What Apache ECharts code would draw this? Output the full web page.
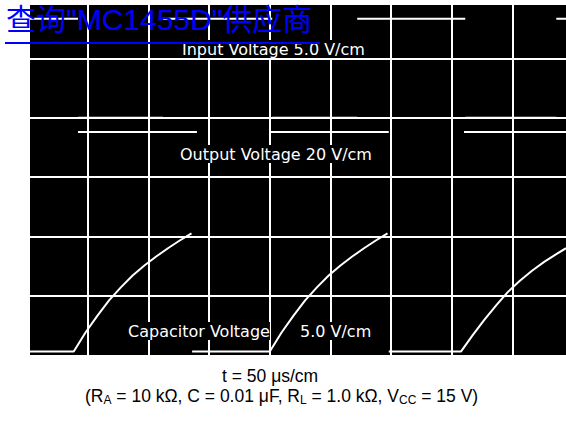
<!DOCTYPE html>
<html>
<head>
<meta charset="utf-8">
<script src="https://cdn.jsdelivr.net/npm/echarts@6/dist/echarts.min.js"></script>
<style>
html,body{margin:0;padding:0;background:#fff;}
#c{width:566px;height:421px;}
</style>
</head>
<body>
<div id="c"></div>
<script>
// time axis in microseconds (50 us per division); vertical axis in screen divisions
const xMin = -50, xMax = 394, xStep = 50;
const yMin = 0, yMax = 5.9, yStep = 1;

// Input voltage trace: edge times (us), alternating starting with high level
const inputEdges = [-48, -8, 62, 152, 222, 311, 386, 394];
const inputLevels = [5.67, 4.0]; // [high, low] in divisions

// Output voltage trace: edge times (us), alternating starting with low level
const outputEdges = [-48, -8, 90, 151, 248, 310, 394];
const outputLevels = [3.0, 3.76]; // [low, high]

// Capacitor voltage trace (null = break in trace)
const capT = [-48, -11.5, -1.8, 7.9, 17.6, 27.3, 37, 46.7, 56.4, 66.1, 75.8, 85.5, null,
              86, 150, 159.7, 169.4, 179.1, 188.8, 198.5, 208.2, 217.9, 227.6, 237.3, 247, null,
              248, 307.6, 317, 327, 337, 346, 356, 366, 376, 386, 394];
const capV = [0.06, 0.06, 0.38, 0.66, 0.92, 1.14, 1.34, 1.51, 1.66, 1.80, 1.93, 2.05, null,
              0.06, 0.06, 0.38, 0.66, 0.92, 1.14, 1.34, 1.51, 1.66, 1.80, 1.93, 2.05, null,
              0.06, 0.06, 0.33, 0.60, 0.85, 1.06, 1.25, 1.42, 1.57, 1.70, 1.80];

const labels = {
  link: '查询"MC1455D"供应商',
  input: 'Input Voltage 5.0 V/cm',
  output: 'Output Voltage 20 V/cm',
  cap: 'Capacitor Voltage',
  capScale: '5.0 V/cm',
  time: 't = 50 μs/cm',
  cond: '(R{s|A} = 10 kΩ, C = 0.01 μF, R{s|L} = 1.0 kΩ, V{s|CC} = 15 V)'
};

function stepData(edges, levels) {
  const d = [];
  for (let i = 0; i < edges.length - 1; i++) {
    const lv = levels[i % 2];
    d.push([edges[i], lv], [edges[i + 1], lv], [null, null]);
  }
  return d;
}
const capData = capT.map((t, i) => [t, capV[i]]);

const chart = echarts.init(document.getElementById('c'), null, {renderer: 'svg'});
const traceStyle = {color: '#fff', width: 2};
const scopeFont = '16px "DejaVu Sans"';
chart.setOption({
  animation: false,
  backgroundColor: '#fff',
  grid: {left: 27, right: 0, top: 5, bottom: 66, show: false},
  xAxis: {
    type: 'value', min: xMin, max: xMax, interval: xStep,
    axisLine: {show: false}, axisTick: {show: false}, axisLabel: {show: false},
    splitLine: {show: true, showMinLine: false, showMaxLine: false, lineStyle: {color: '#fff', width: 2}}
  },
  yAxis: {
    type: 'value', min: yMin, max: yMax, interval: yStep,
    axisLine: {show: false}, axisTick: {show: false}, axisLabel: {show: false},
    splitLine: {show: true, showMinLine: false, showMaxLine: false, lineStyle: {color: '#fff', width: 2}}
  },
  graphic: [
    {type: 'rect', z: -10, silent: true, shape: {x: 30, y: 5, width: 536, height: 350}, style: {fill: '#000'}},
    {type: 'text', z: 100, left: 182, top: 40, style: {text: labels.input, fill: '#fff', font: scopeFont, backgroundColor: '#000', lineHeight: 18}},
    {type: 'text', z: 100, left: 180, top: 145, style: {text: labels.output, fill: '#fff', font: scopeFont, backgroundColor: '#000', padding: [1, 0, 1, 0]}},
    {type: 'text', z: 100, left: 128, top: 322, style: {text: labels.cap, fill: '#fff', font: scopeFont, backgroundColor: '#000', padding: [1, 0, 1, 0]}},
    {type: 'text', z: 100, left: 300, top: 322, style: {text: labels.capScale, fill: '#fff', font: scopeFont, backgroundColor: '#000', padding: [1, 0, 1, 0]}},
    {type: 'text', z: 200, left: 6, top: 4, style: {text: labels.link, fill: '#0000ff', font: '30px "Liberation Sans", "Noto Sans CJK SC"', lineHeight: 29}},
    {type: 'rect', z: 200, silent: true, shape: {x: 5, y: 42, width: 315, height: 2}, style: {fill: '#0000ff'}},
    {type: 'text', z: 100, left: 222, top: 367, style: {text: labels.time, fill: '#000', font: '17.5px "Liberation Sans"'}},
    {type: 'text', z: 100, left: 85, top: 385, style: {text: labels.cond, fill: '#000', font: '17.5px "Liberation Sans"', lineHeight: 21,
      rich: {s: {fontSize: 12, fontFamily: 'Liberation Sans', verticalAlign: 'bottom', lineHeight: 12}}}}
  ],
  series: [
    {name: 'Input', type: 'line', data: stepData(inputEdges, inputLevels), showSymbol: false, symbol: 'none', connectNulls: false, lineStyle: traceStyle, z: 5},
    {name: 'Output', type: 'line', data: stepData(outputEdges, outputLevels), showSymbol: false, symbol: 'none', connectNulls: false, lineStyle: traceStyle, z: 5},
    {name: 'Capacitor', type: 'line', data: capData, showSymbol: false, symbol: 'none', connectNulls: false, lineStyle: traceStyle, z: 5}
  ]
});
</script>
</body>
</html>
